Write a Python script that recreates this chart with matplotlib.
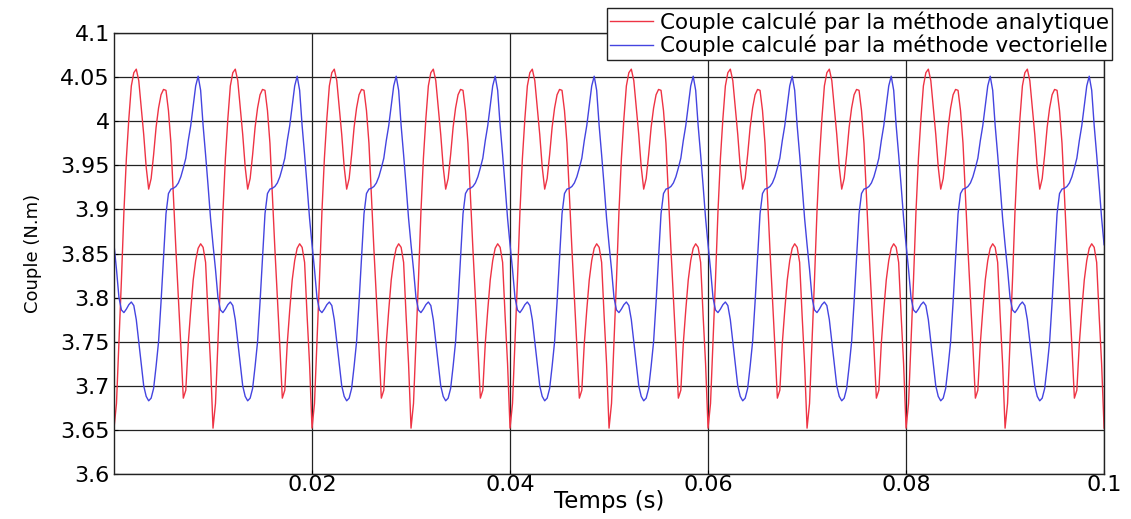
import numpy as np
import matplotlib
matplotlib.use('Agg')
from matplotlib import pyplot as plt

# one period (0.01 s) every 0.25 ms
dt = 0.00025
red_period = [3.652, 3.680, 3.750, 3.820, 3.897, 3.958, 4.003, 4.040, 4.055, 4.059,
              4.046, 4.015, 3.985, 3.948, 3.923, 3.935, 3.962, 3.993, 4.015, 4.030,
              4.036, 4.035, 4.012, 3.975, 3.915, 3.855, 3.800, 3.745, 3.686, 3.695,
              3.748, 3.786, 3.820, 3.842, 3.856, 3.861, 3.857, 3.840, 3.780, 3.725]
blue_period = [3.860, 3.832, 3.800, 3.786, 3.783, 3.787, 3.792, 3.795, 3.791, 3.775,
               3.750, 3.725, 3.700, 3.688, 3.683, 3.686, 3.697, 3.722, 3.750, 3.795,
               3.846, 3.895, 3.918, 3.923, 3.924, 3.926, 3.930, 3.937, 3.947, 3.958,
               3.978, 3.995, 4.018, 4.040, 4.051, 4.035, 3.995, 3.962, 3.927, 3.890]
n_periods = 10

labels = ['Couple calculé par la méthode analytique',
          'Couple calculé par la méthode vectorielle']
xticks = [0.02, 0.04, 0.06, 0.08, 0.1]
xticklabels = ['0.02', '0.04', '0.06', '0.08', '0.1']
yticks = [3.6, 3.65, 3.7, 3.75, 3.8, 3.85, 3.9, 3.95, 4.0, 4.05, 4.1]
yticklabels = ['3.6', '3.65', '3.7', '3.75', '3.8', '3.85', '3.9', '3.95', '4', '4.05', '4.1']

n = n_periods * len(red_period) + 1
t = np.arange(n) * dt
red = np.tile(red_period, n_periods + 1)[:n]
blue = np.tile(blue_period, n_periods + 1)[:n]

plt.rcParams['font.family'] = ['DejaVu Sans']
fig = plt.figure(figsize=(11.31, 5.19), dpi=100)
ax = fig.add_axes([0.1008, 0.0867, 0.8754, 0.8497])

ax.plot(t, red, color='#ee3344', lw=1.0, label=labels[0])
ax.plot(t, blue, color='#4444e0', lw=1.0, label=labels[1])

ax.set_xlim(0, 0.1)
ax.set_ylim(3.6, 4.1)
ax.set_xticks(xticks)
ax.set_xticklabels(xticklabels)
ax.set_yticks(yticks)
ax.set_yticklabels(yticklabels)
ax.tick_params(direction='in', length=3, labelsize=16, pad=3)
ax.tick_params(axis='x', pad=1)
ax.grid(True, color='#222222', lw=0.9)
ax.set_axisbelow(True)
for s in ax.spines.values():
    s.set_color('#222222')
    s.set_linewidth(1.0)

ax.set_xlabel('Temps (s)', fontsize=16.5)
ax.xaxis.set_label_coords(0.5, -0.036)
ax.set_ylabel('Couple (N.m)', fontsize=13)
ax.yaxis.set_label_coords(-0.073, 0.5)

leg = ax.legend(loc='upper right', bbox_to_anchor=(1112 / 1131, 1 - 8 / 519),
                bbox_transform=fig.transFigure, fontsize=15.5, fancybox=False,
                framealpha=1, edgecolor='#222222', borderpad=0.15, labelspacing=0.1,
                handlelength=2.0, handletextpad=0.3, borderaxespad=0)
leg.get_frame().set_linewidth(1.0)

fig.savefig('out.png', dpi=100)
